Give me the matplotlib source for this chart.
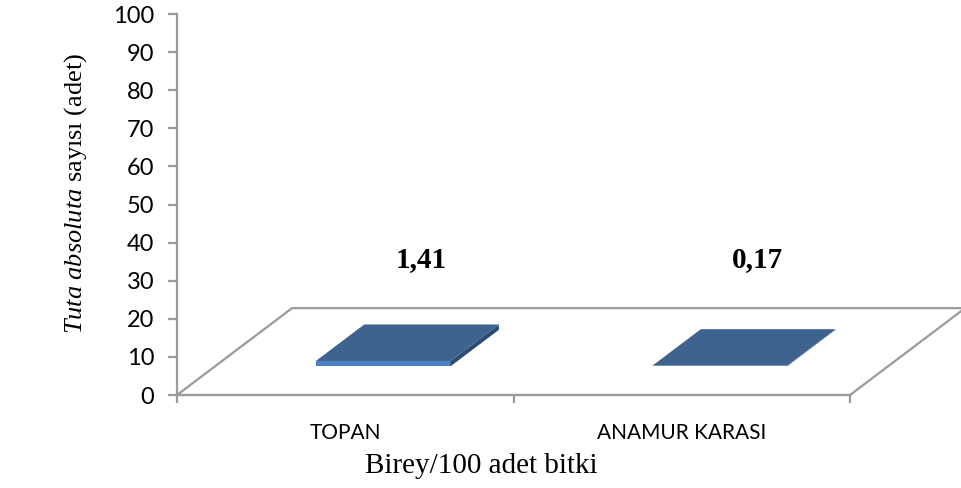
import numpy as np
import matplotlib.pyplot as plt
from matplotlib.patches import Polygon

# Birey/100 adet bitki
kategoriler = ['TOPAN', 'ANAMUR KARASI']
degerler = [1.41, 0.17]
etiketler = ['1,41', '0,17']

plt.rcParams['mathtext.fontset'] = 'custom'
plt.rcParams['mathtext.rm'] = 'Liberation Serif'
plt.rcParams['mathtext.it'] = 'Liberation Serif:italic'

fig = plt.figure(figsize=(9.62, 4.88), dpi=100)
ax = fig.add_axes([177 / 962, 93 / 488, 673 / 962, 381 / 488])
ax.set_xlim(-0.5, 1.5)
ax.set_ylim(0, 100)

# perspektif kaydirma (derinlik 0..1 icin)
DX, DY = 0.342, 22.8


def proj(x, y, d):
    return (x + d * DX, y + d * DY)


gri = '#9a9a9a'

# zemin
zemin = [proj(-0.5, 0, 0), proj(1.5, 0, 0), proj(1.5, 0, 1), proj(-0.5, 0, 1)]
ax.add_patch(Polygon(zemin, closed=True, facecolor='white', edgecolor=gri,
                     lw=1.6, clip_on=False, zorder=1))

# yassi 3B cubuklar
w = 0.40
d0, d1 = 0.33, 0.75
for i, v in enumerate(degerler):
    x0, x1 = i - w / 2, i + w / 2
    on = [proj(x0, 0, d0), proj(x1, 0, d0), proj(x1, v, d0), proj(x0, v, d0)]
    yan = [proj(x1, 0, d0), proj(x1, 0, d1), proj(x1, v, d1), proj(x1, v, d0)]
    ust = [proj(x0, v, d0), proj(x1, v, d0), proj(x1, v, d1), proj(x0, v, d1)]
    ax.add_patch(Polygon(on, closed=True, facecolor='#4f81c4', edgecolor='none',
                         clip_on=False, zorder=3))
    ax.add_patch(Polygon(yan, closed=True, facecolor='#2c4b73', edgecolor='none',
                         clip_on=False, zorder=3))
    ax.add_patch(Polygon(ust, closed=True, facecolor='#3d638e', edgecolor='none',
                         clip_on=False, zorder=4))
    ax.text(i + 0.66 * DX, 35.5, etiketler[i], ha='center', va='center',
            fontsize=21, fontweight='bold', family='Liberation Serif')

# eksenler
for s in ['top', 'right']:
    ax.spines[s].set_visible(False)
ax.spines['left'].set_color(gri)
ax.spines['left'].set_linewidth(1.6)
ax.spines['bottom'].set_color(gri)
ax.spines['bottom'].set_linewidth(1.6)
ax.spines['left'].set_zorder(5)

ax.set_yticks(np.arange(0, 101, 10))
ax.tick_params(axis='y', colors=gri, length=6.5, width=1.6, labelcolor='black',
               labelsize=17, pad=10)
for t in ax.get_yticklabels():
    t.set_family('Lato')

ax.set_xticks([-0.5, 0.5, 1.5])
ax.set_xticklabels([])
ax.tick_params(axis='x', which='major', colors=gri, length=6, width=1.6)
ax.set_xticks([0, 1], minor=True)
ax.set_xticklabels(kategoriler, minor=True, fontsize=15, family='Lato')
ax.tick_params(axis='x', which='minor', length=0, pad=20)

ax.set_xlabel('Birey/100 adet bitki', fontsize=21, family='Liberation Serif',
              va='center')
ax.xaxis.set_label_coords(0.452, -0.186)
ax.set_ylabel(r'$\mathit{Tuta\ absoluta}$ sayısı (adet)', fontsize=19,
              family='Liberation Serif', va='center')
ax.yaxis.set_label_coords(-0.150, 0.53)

fig.savefig('out.png', dpi=100)
